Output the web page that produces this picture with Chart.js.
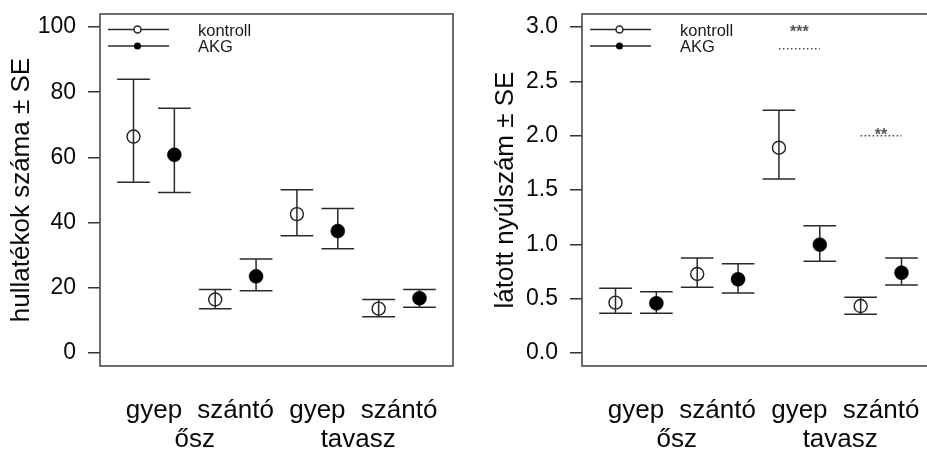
<!DOCTYPE html>
<html>
<head>
<meta charset="utf-8">
<script src="https://cdn.jsdelivr.net/npm/chart.js@4.4.1/dist/chart.umd.min.js"></script>
<style>
  html, body { margin: 0; padding: 0; background: #fff; overflow: hidden; width: 927px; height: 452px; }
  #left { position: absolute; left: 0; top: 0; }
  #right { position: absolute; left: 480px; top: 0; }
</style>
</head>
<body>
<canvas id="left" width="463" height="452"></canvas>
<canvas id="right" width="463" height="452"></canvas>
<script>
// x positions of the groups
var ctrlPos = [1, 3, 5, 7];
var akgPos = [2, 4, 6, 8];
var habitats = ['gyep', 'szántó', 'gyep', 'szántó'];
var habitatPos = [1.5, 3.5, 5.5, 7.5];
var seasons = ['ősz', 'tavasz'];
var seasonPos = [2.5, 6.5];

// hullatékok száma
var dropTicks = [0, 20, 40, 60, 80, 100];
var dropCtrl   = [66.4, 16.4, 42.6, 13.6];
var dropCtrlLo = [52.4, 13.6, 36.0, 11.1];
var dropCtrlHi = [84.0, 19.5, 50.1, 16.4];
var dropAkg    = [60.8, 23.5, 37.4, 16.8];
var dropAkgLo  = [49.2, 19.1, 32.0, 14.0];
var dropAkgHi  = [75.1, 28.8, 44.3, 19.5];

// látott nyúlszám
var hareTicks = [0, 0.5, 1, 1.5, 2, 2.5, 3];
var hareCtrl   = [0.463, 0.727, 1.889, 0.432];
var hareCtrlLo = [0.365, 0.604, 1.601, 0.356];
var hareCtrlHi = [0.595, 0.874, 2.234, 0.512];
var hareAkg    = [0.457, 0.678, 0.997, 0.739];
var hareAkgLo  = [0.365, 0.552, 0.844, 0.626];
var hareAkgHi  = [0.564, 0.822, 1.171, 0.874];

// significance marks (right panel)
var sigFrom = [5, 7];
var sigTo = [6, 8];
var sigLineY = [2.8, 2.0];
var sigTextY = [2.95, 2.0];
var sigText = ['***', '**'];

var FONT = '"Liberation Sans", Arial, sans-serif';
var CAP = 0.4; // half width of error bar caps, x units

var framePlugin = {
  id: 'frame',
  afterDraw: function(chart) {
    var a = chart.chartArea, c = chart.ctx;
    c.save();
    c.strokeStyle = '#555';
    c.lineWidth = 1.7;
    c.strokeRect(a.left, a.top, a.right - a.left, a.bottom - a.top);
    c.restore();
  }
};

var errorBars = {
  id: 'errorBars',
  beforeDatasetsDraw: function(chart) {
    var c = chart.ctx, xs = chart.scales.x, ys = chart.scales.y;
    c.save();
    c.strokeStyle = '#2a2a2a';
    c.lineWidth = 1.5;
    chart.data.datasets.forEach(function(ds) {
      ds.data.forEach(function(p, i) {
        var x = xs.getPixelForValue(p.x);
        var x0 = xs.getPixelForValue(p.x - CAP), x1 = xs.getPixelForValue(p.x + CAP);
        var lo = ys.getPixelForValue(ds.errLo[i]), hi = ys.getPixelForValue(ds.errHi[i]);
        c.beginPath();
        c.moveTo(x, lo); c.lineTo(x, hi);
        c.moveTo(x0, lo); c.lineTo(x1, lo);
        c.moveTo(x0, hi); c.lineTo(x1, hi);
        c.stroke();
      });
    });
    c.restore();
  }
};

var rLegend = {
  id: 'rLegend',
  afterDraw: function(chart) {
    var a = chart.chartArea, c = chart.ctx;
    c.save();
    chart.data.datasets.forEach(function(ds, i) {
      var y = a.top + 15.5 + i * 16.5;
      c.strokeStyle = '#2a2a2a';
      c.lineWidth = 1.5;
      c.beginPath();
      c.moveTo(a.left + 8, y); c.lineTo(a.left + 69, y);
      c.stroke();
      c.beginPath();
      c.arc(a.left + 37.5, y, 3.5, 0, Math.PI * 2);
      if (i === 0) {
        c.fillStyle = '#fff';
        c.fill();
        c.stroke();
      } else {
        c.fillStyle = '#000';
        c.fill();
      }
      c.fillStyle = '#1a1a1a';
      c.font = '16.5px ' + FONT;
      c.textBaseline = 'middle';
      c.textAlign = 'left';
      c.fillText(ds.label, a.left + 98, y + 1.5);
    });
    c.restore();
  }
};

var sigMarks = {
  id: 'sigMarks',
  afterDatasetsDraw: function(chart, args, opts) {
    if (!opts || !opts.show) return;
    var c = chart.ctx, xs = chart.scales.x, ys = chart.scales.y;
    c.save();
    for (var i = 0; i < sigText.length; i++) {
      var x0 = xs.getPixelForValue(sigFrom[i]), x1 = xs.getPixelForValue(sigTo[i]);
      var y = ys.getPixelForValue(sigLineY[i]);
      c.strokeStyle = '#444';
      c.lineWidth = 1.4;
      c.setLineDash([1.5, 2.5]);
      c.beginPath();
      c.moveTo(x0, y); c.lineTo(x1, y);
      c.stroke();
      c.fillStyle = '#555';
      c.font = 'bold 16px ' + FONT;
      c.textAlign = 'center';
      c.textBaseline = 'middle';
      c.fillText(sigText[i], (x0 + x1) / 2, ys.getPixelForValue(sigTextY[i]));
    }
    c.restore();
  }
};

function points(pos, vals) {
  return vals.map(function(v, i) { return { x: pos[i], y: v }; });
}

function makeChart(id, cfg) {
  return new Chart(document.getElementById(id), {
    type: 'scatter',
    data: {
      datasets: [{
        label: 'kontroll',
        data: points(ctrlPos, cfg.ctrl),
        errLo: cfg.ctrlLo, errHi: cfg.ctrlHi,
        pointRadius: 6.5,
        pointBorderWidth: 1.4,
        pointBorderColor: '#222',
        pointBackgroundColor: 'rgba(0,0,0,0)'
      }, {
        label: 'AKG',
        data: points(akgPos, cfg.akg),
        errLo: cfg.akgLo, errHi: cfg.akgHi,
        pointRadius: 7,
        pointBorderWidth: 0.5,
        pointBorderColor: '#000',
        pointBackgroundColor: '#000'
      }]
    },
    options: {
      responsive: false,
      animation: false,
      devicePixelRatio: 1,
      events: [],
      layout: { padding: { left: 0, right: cfg.padRight, top: 14, bottom: 0 } },
      plugins: {
        legend: { display: false },
        tooltip: { enabled: false },
        sigMarks: { show: !!cfg.sig }
      },
      scales: {
        x: {
          type: 'linear', position: 'bottom', weight: 1,
          min: 0.18, max: 8.82,
          grid: { display: false, drawTicks: false, tickLength: 0 },
          border: { display: false },
          afterBuildTicks: function(s) { s.ticks = habitatPos.map(function(v) { return { value: v }; }); },
          afterFit: function(s) { s.height = 58; s.paddingLeft = 0; s.paddingRight = 0; },
          ticks: {
            autoSkip: false, maxRotation: 0, minRotation: 0, padding: 29,
            color: '#0a0a0a', font: { family: FONT, size: 26 },
            callback: function(v, i) { return habitats[i]; }
          }
        },
        x2: {
          type: 'linear', position: 'bottom', weight: 2,
          min: 0.18, max: 8.82,
          grid: { display: false, drawTicks: false, tickLength: 0 },
          border: { display: false },
          afterBuildTicks: function(s) { s.ticks = seasonPos.map(function(v) { return { value: v }; }); },
          afterFit: function(s) { s.height = 28; s.paddingLeft = 0; s.paddingRight = 0; },
          ticks: {
            autoSkip: false, maxRotation: 0, minRotation: 0, padding: 0,
            color: '#0a0a0a', font: { family: FONT, size: 26 },
            callback: function(v, i) { return seasons[i]; }
          }
        },
        y: {
          min: cfg.min, max: cfg.max,
          afterBuildTicks: function(s) { s.ticks = cfg.ticks.map(function(v) { return { value: v }; }); },
          afterFit: function(s) { s.width = cfg.axisWidth; s.paddingTop = 0; s.paddingBottom = 0; },
          grid: { drawOnChartArea: false, tickLength: 12, color: '#333', lineWidth: 1.5 },
          border: { display: false },
          ticks: {
            padding: 12, color: '#0a0a0a', font: { family: FONT, size: 23 },
            callback: cfg.fmt
          },
          title: {
            display: true, text: cfg.title, color: '#0a0a0a',
            font: { family: FONT, size: 26 },
            padding: { top: cfg.titlePad, bottom: 0 }
          }
        }
      }
    },
    plugins: [errorBars, sigMarks, framePlugin, rLegend]
  });
}

makeChart('left', {
  ctrl: dropCtrl, ctrlLo: dropCtrlLo, ctrlHi: dropCtrlHi,
  akg: dropAkg, akgLo: dropAkgLo, akgHi: dropAkgHi,
  ticks: dropTicks, min: -4, max: 104,
  fmt: function(v) { return String(v); },
  title: 'hullatékok száma ± SE',
  axisWidth: 100, padRight: 10, titlePad: 6.5
});

makeChart('right', {
  ctrl: hareCtrl, ctrlLo: hareCtrlLo, ctrlHi: hareCtrlHi,
  akg: hareAkg, akgLo: hareAkgLo, akgHi: hareAkgHi,
  ticks: hareTicks, min: -0.12, max: 3.12,
  fmt: function(v) { return v.toFixed(1); },
  title: 'látott nyúlszám ± SE',
  axisWidth: 102, padRight: 8, titlePad: 10.5,
  sig: true
});
</script>
</body>
</html>
